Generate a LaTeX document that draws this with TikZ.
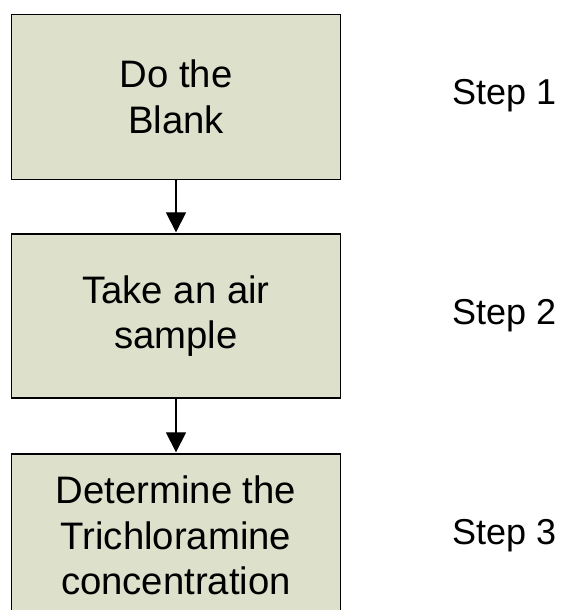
\documentclass[tikz,border=0pt]{standalone}
\usepackage{fontspec}
\setmainfont{Liberation Sans}
\usetikzlibrary{arrows.meta}
\definecolor{boxfill}{RGB}{221,224,203}
\tikzset{
  stepbox/.style={draw=black, line width=1.3pt, fill=boxfill, minimum width=329pt,
    inner sep=0pt, align=center, font=\fontsize{38.3}{45.5}\selectfont},
  steplabel/.style={anchor=west, inner sep=0pt, font=\fontsize{36}{45}\selectfont},
  flow/.style={line width=1.2pt, -{Triangle[length=20pt,width=20pt]}, shorten >=1pt}
}
\begin{document}
\begin{tikzpicture}[x=1pt,y=-1pt]
\useasboundingbox (0,0) rectangle (562,610);
\clip (0,0) rectangle (562,610);
\node[stepbox, minimum height=165pt] (b1) at (176,97) {Do the\\Blank};
\node[stepbox, minimum height=164pt] (b2) at (176,316) {Take an air\\sample};
\node[stepbox, minimum height=163pt] (b3) at (176,535.5) {Determine the\\Trichloramine\\concentration};
\node[steplabel] (s1) at (452,96) {Step 1};
\node[steplabel] (s2) at (452,316) {Step 2};
\node[steplabel] (s3) at (452,536) {Step 3};
\draw[flow] (b1.south) -- (b2.north);
\draw[flow] (b2.south) -- (b3.north);
\end{tikzpicture}
\end{document}
